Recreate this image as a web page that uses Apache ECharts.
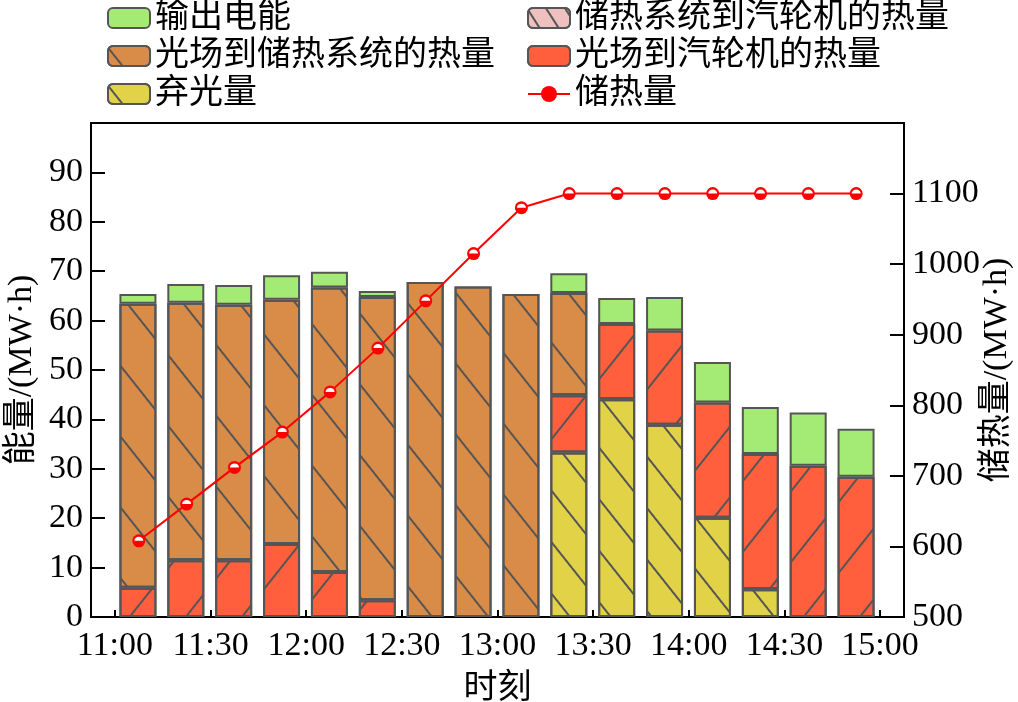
<!DOCTYPE html>
<html>
<head>
<meta charset="utf-8">
<script src="https://cdn.jsdelivr.net/npm/echarts@6/dist/echarts.min.js"></script>
<style>html,body{margin:0;padding:0;background:#fff;}#c{width:1018px;height:702px;}</style>
</head>
<body>
<div id="c"></div>
<script>
// 16 quarter-hour periods, 11:00 - 15:00
const periods = ['11:00','11:15','11:30','11:45','12:00','12:15','12:30','12:45','13:00','13:15','13:30','13:45','14:00','14:15','14:30','14:45'];
const tickLabels = ['11:00','11:30','12:00','12:30','13:00','13:30','14:00','14:30','15:00'];
const curtailed   = [0,0,0,0,0,0,0,0,0,33.3,44.1,38.9,20.1,5.6,0,0];            // 弃光量
const fieldToTurbine = [5.9,11.5,11.5,14.8,9.1,3.4,0,0,0,11.6,15.2,19.1,23.3,27.4,30.6,28.4]; // 光场到汽轮机的热量
const fieldToStorage = [57.5,52.1,51.7,49.4,57.6,61.4,67.8,66.9,65.4,20.7,0,0,0,0,0,0]; // 光场到储热系统的热量
const storageToTurbine = [0,0,0,0,0,0,0,0,0,0,0,0,0,0,0,0]; // 储热系统到汽轮机的热量
const powerOut    = [2.0,3.8,4.0,5.0,3.2,1.2,0,0,0,4.0,5.3,6.8,8.2,9.5,10.8,9.7]; // 输出电能
const storage     = [608,660,712,762,819,881,948,1015,1080,1100,1100,1100,1100,1100,1100,1100]; // 储热量

const F = "'Liberation Serif','Noto Sans CJK SC'";
const FS = 34;
const border = {borderColor: '#555', borderWidth: 2};
function hatch(rot, gap) {
  return {symbol: 'rect', color: '#555', dashArrayX: [1, 0], dashArrayY: [2, gap], rotation: rot};
}
const nz = arr => arr.map(v => (v === 0 ? null : v)); // empty segments are not drawn
const txt = {fontSize: FS, fontFamily: F, color: '#000'};

const chart = echarts.init(document.getElementById('c'), null, {renderer: 'canvas'});
const barCommon = {type: 'bar', stack: 'e', barWidth: 37, xAxisIndex: 1, yAxisIndex: 2};
chart.setOption({
  animation: false,
  textStyle: {fontFamily: F},
  legend: [{
    left: 102, top: -4, orient: 'vertical', itemWidth: 42, itemHeight: 20, itemGap: 4,
    textStyle: txt,
    data: ['输出电能', '光场到储热系统的热量', '弃光量']
  }, {
    left: 522, top: -4, orient: 'vertical', itemWidth: 42, itemHeight: 20, itemGap: 4,
    textStyle: txt,
    data: ['储热系统到汽轮机的热量', '光场到汽轮机的热量', '储热量']
  }],
  grid: [
    {left: 91, right: 114, top: 123, bottom: 85, show: true, borderColor: '#000', borderWidth: 2, outerBoundsMode: 'none', containLabel: false},
    {left: 114, right: 138, top: 123, bottom: 85, outerBoundsMode: 'none', containLabel: false}
  ],
  xAxis: [{
    gridIndex: 0, type: 'value', min: -0.5, max: 16.5,
    name: '时刻', nameLocation: 'middle', nameGap: 55, nameMoveOverlap: false,
    nameTextStyle: txt,
    axisLine: {onZero: false, lineStyle: {color: '#000', width: 2}},
    axisTick: {inside: true, length: 7, lineStyle: {color: '#000', width: 2}, customValues: tickLabels.map((t, i) => i * 2)},
    axisLabel: {fontSize: FS, color: '#000', fontFamily: F, margin: 12,
      customValues: tickLabels.map((t, i) => i * 2),
      formatter: v => tickLabels[Math.round(v / 2)] || ''},
    splitLine: {show: false}
  }, {
    gridIndex: 1, type: 'category', data: periods, boundaryGap: true, show: false
  }],
  yAxis: [{
    gridIndex: 0, type: 'value', min: 0, max: 100, interval: 10,
    name: '能量/(MW·h)', nameLocation: 'middle', nameGap: 52, nameRotate: 90, nameMoveOverlap: false,
    nameTextStyle: txt,
    axisLine: {show: true, onZero: false, lineStyle: {color: '#000', width: 2}},
    axisTick: {show: true, inside: true, length: 14, lineStyle: {color: '#000', width: 2}},
    axisLabel: {fontSize: FS, color: '#000', fontFamily: F, margin: 8, formatter: v => v === 100 ? '' : v},
    splitLine: {show: false}
  }, {
    gridIndex: 0, type: 'value', min: 500, max: 1200, interval: 100, position: 'right',
    name: '储热量/(MW·h)', nameLocation: 'middle', nameGap: 76, nameRotate: 90, nameMoveOverlap: false,
    nameTextStyle: txt,
    axisLine: {show: true, onZero: false, lineStyle: {color: '#000', width: 2}},
    axisTick: {show: true, inside: true, length: 14, lineStyle: {color: '#000', width: 2}},
    axisLabel: {fontSize: FS, color: '#000', fontFamily: F, margin: 8, formatter: v => v === 1200 ? '' : v},
    splitLine: {show: false}
  }, {
    gridIndex: 1, type: 'value', min: 0, max: 100, show: false
  }],
  series: [
    Object.assign({}, barCommon, {name: '弃光量', data: nz(curtailed),
      itemStyle: Object.assign({color: '#E1D247', decal: hatch(0.9, 30)}, border)}),
    Object.assign({}, barCommon, {name: '光场到汽轮机的热量', data: nz(fieldToTurbine),
      itemStyle: Object.assign({color: '#FF5F3C', decal: hatch(-0.9, 42)}, border)}),
    Object.assign({}, barCommon, {name: '光场到储热系统的热量', data: nz(fieldToStorage),
      itemStyle: Object.assign({color: '#D98B48', decal: hatch(0.9, 42)}, border)}),
    Object.assign({}, barCommon, {name: '储热系统到汽轮机的热量', data: nz(storageToTurbine),
      itemStyle: Object.assign({color: '#EEC0C0', decal: {symbol: 'rect', color: '#555', dashArrayX: [1, 0], dashArrayY: [2, 14], rotation: 1.0}}, border)}),
    Object.assign({}, barCommon, {name: '输出电能', data: nz(powerOut),
      itemStyle: Object.assign({color: '#A4EB76'}, border)}),
    {name: '储热量', type: 'line', xAxisIndex: 0, yAxisIndex: 1, data: storage.map((v, i) => [i + 0.5, v]), z: 5,
      symbol: 'circle', symbolSize: 13, lineStyle: {color: '#FF0000', width: 2},
      itemStyle: {color: '#FF0000'}},
    {name: '储热量cap', type: 'line', xAxisIndex: 0, yAxisIndex: 1, data: storage.map((v, i) => [i + 0.5, v]), z: 6, silent: true,
      symbol: 'path://M0,10 A10,10 0 0 1 20,10 Z', symbolSize: [9, 4], symbolOffset: [0, -2],
      lineStyle: {width: 0, opacity: 0}, itemStyle: {color: '#FFFFFF'}}
  ]
});
</script>
</body>
</html>
